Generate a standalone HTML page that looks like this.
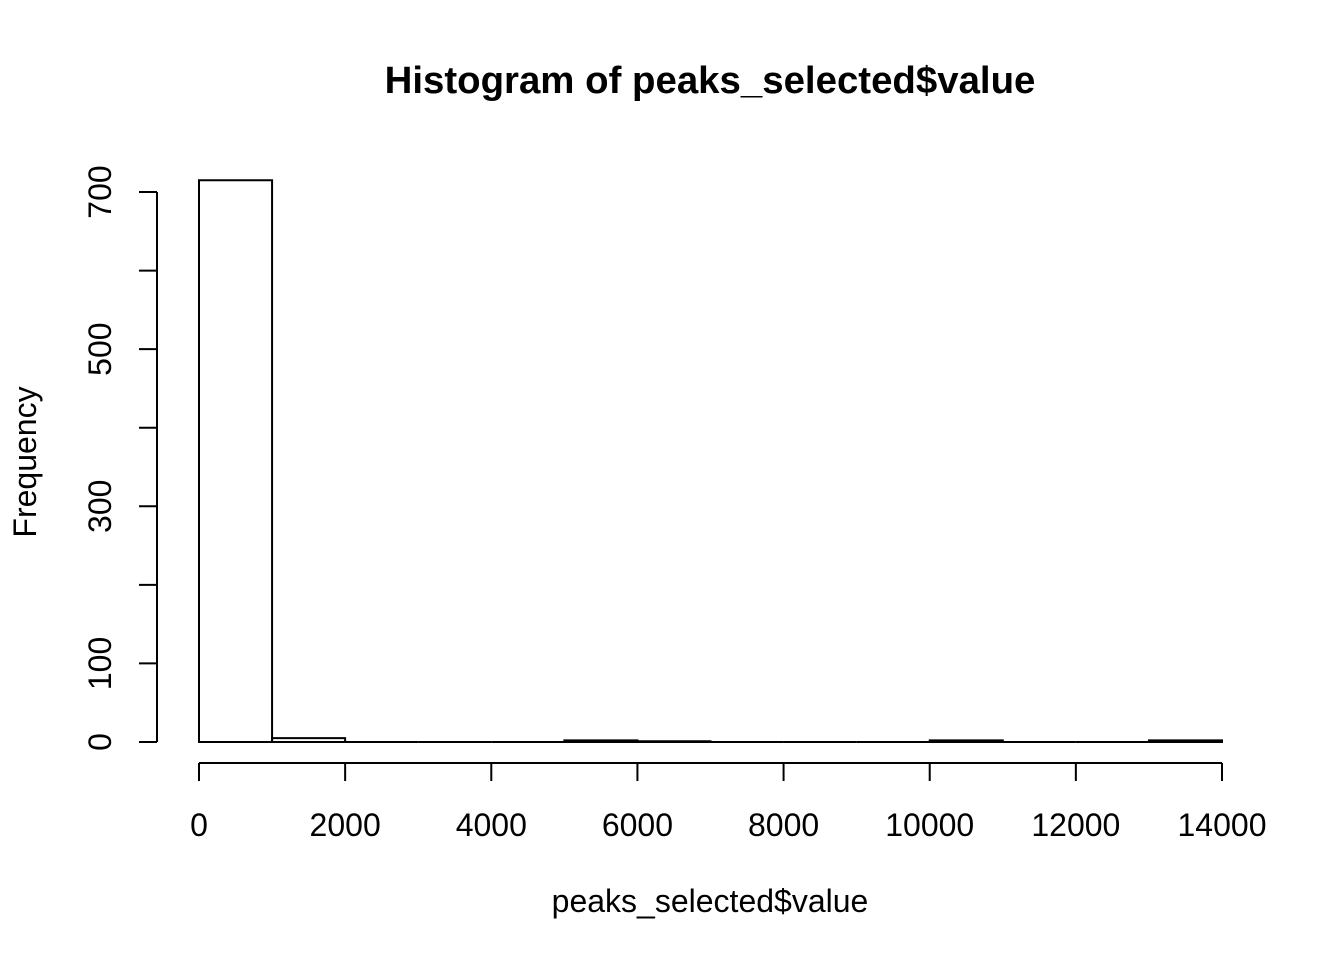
<!DOCTYPE html>
<html><head><meta charset="utf-8"><style>html,body{margin:0;background:#fff}svg text{font-family:"Liberation Sans",Arial,sans-serif}</style></head>
<body>
<svg id="chart" width="1344" height="960" xmlns="http://www.w3.org/2000/svg">
<text x="710" y="93" text-anchor="middle" font-size="38.4" font-weight="bold">Histogram of peaks_selected$value</text>
<text x="710" y="912" text-anchor="middle" font-size="32">peaks_selected$value</text>
<text transform="translate(36,462) rotate(-90)" text-anchor="middle" font-size="32">Frequency</text>
<g id="bars"></g><g id="xaxis"></g><g id="yaxis"></g>
</svg>
<script>
const binEdges=[0,1000,2000,3000,4000,5000,6000,7000,8000,9000,10000,11000,12000,13000,14000];
const counts=[715,5,0,0,0,2,1,0,0,0,2,0,0,2];
const xTicks=[0,2000,4000,6000,8000,10000,12000,14000];
const yTicks=[0,100,200,300,400,500,600,700];
const yTickLabels=["0","100","","300","","500","","700"];
const NS="http://www.w3.org/2000/svg";
const x=v=>199+v*(1222-199)/14000;
const y=v=>742-v*(742-192)/700;
function mk(t,a,p){const e=document.createElementNS(NS,t);for(const k in a)e.setAttribute(k,a[k]);p.appendChild(e);return e;}
const bars=document.getElementById('bars');
counts.forEach((c,i)=>{const x0=x(binEdges[i]),x1=x(binEdges[i+1]),y0=y(0),y1=y(c);
const r=mk('path',{d:`M${x0},${y0}L${x0},${y1}L${x1},${y1}L${x1},${y0}Z`,fill:'none',stroke:'#000','stroke-width':2},bars);

});
const xa=document.getElementById('xaxis');
const xl=mk('line',{x1:x(0),x2:x(14000),y1:763,y2:763,stroke:'#000','stroke-width':2},xa);


xTicks.forEach(t=>{mk('line',{x1:x(t),x2:x(t),y1:763,y2:781,stroke:'#000','stroke-width':2},xa);
const tx=mk('text',{x:x(t),y:836,'text-anchor':'middle','font-size':32},xa);tx.textContent=t;

});
const ya=document.getElementById('yaxis');
const yl=mk('line',{x1:157,x2:157,y1:y(0),y2:y(700),stroke:'#000','stroke-width':2},ya);


yTicks.forEach((t,i)=>{mk('line',{x1:139,x2:157,y1:y(t),y2:y(t),stroke:'#000','stroke-width':2},ya);
if(yTickLabels[i]){const tx=mk('text',{transform:`translate(111,${y(t)}) rotate(-90)`,'text-anchor':'middle','font-size':32},ya);tx.textContent=yTickLabels[i];

}});
</script>
</body></html>
